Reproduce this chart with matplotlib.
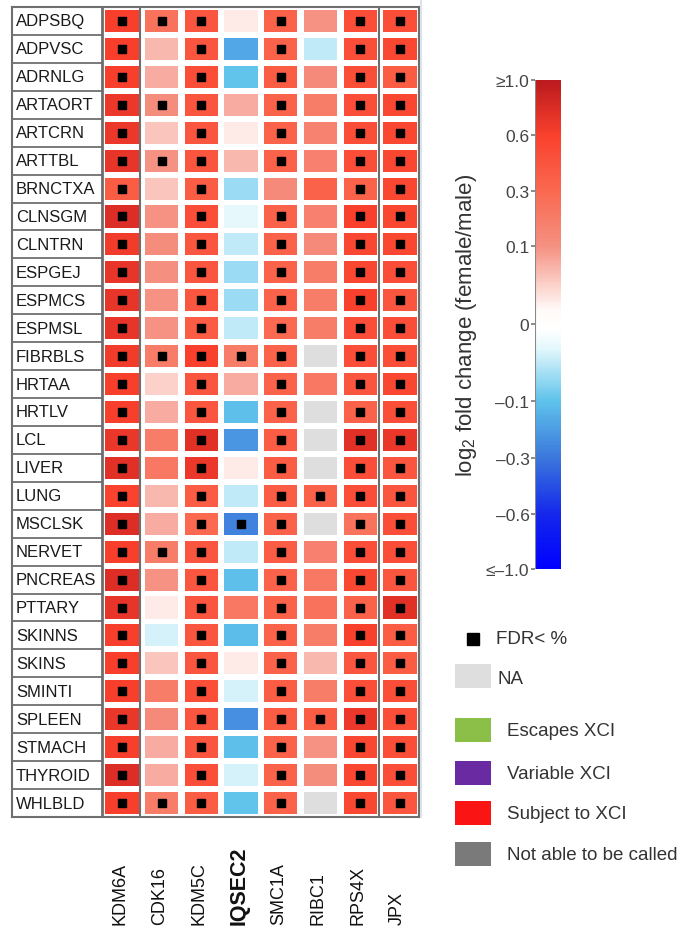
"""
Heatmap of female/male log2 fold change for X-linked genes across tissues
"""

import numpy as np
import matplotlib
matplotlib.use("Agg")
import matplotlib.pyplot as plt
from matplotlib.colors import LinearSegmentedColormap, FuncNorm
from matplotlib.patches import Rectangle
from matplotlib.lines import Line2D
import matplotlib.cm as cm

plt.rcParams["font.family"] = ["Liberation Sans", "DejaVu Sans"]
plt.rcParams["mathtext.fontset"] = "custom"
plt.rcParams["mathtext.rm"] = "Liberation Sans"

NA = np.nan

tissues = ["ADPSBQ", "ADPVSC", "ADRNLG", "ARTAORT", "ARTCRN", "ARTTBL", "BRNCTXA",
           "CLNSGM", "CLNTRN", "ESPGEJ", "ESPMCS", "ESPMSL", "FIBRBLS", "HRTAA",
           "HRTLV", "LCL", "LIVER", "LUNG", "MSCLSK", "NERVET", "PNCREAS", "PTTARY",
           "SKINNS", "SKINS", "SMINTI", "SPLEEN", "STMACH", "THYROID", "WHLBLD"]

genes = ["KDM6A", "CDK16", "KDM5C", "IQSEC2", "SMC1A", "RIBC1", "RPS4X", "JPX"]

# log2 fold change (female/male), one row per tissue, columns follow genes
fold_change = np.array([
    [0.62, 0.25, 0.45, 0.03, 0.35, 0.10, 0.50, 0.50],
    [0.62, 0.07, 0.45, -0.17, 0.35, -0.05, 0.50, 0.55],
    [0.62, 0.08, 0.50, -0.10, 0.40, 0.13, 0.50, 0.40],
    [0.68, 0.12, 0.45, 0.08, 0.35, 0.20, 0.50, 0.55],
    [0.68, 0.06, 0.45, 0.03, 0.35, 0.17, 0.50, 0.55],
    [0.72, 0.10, 0.45, 0.07, 0.35, 0.18, 0.50, 0.55],
    [0.40, 0.06, 0.40, -0.07, 0.13, 0.35, 0.35, 0.55],
    [0.78, 0.10, 0.50, -0.03, 0.35, 0.18, 0.60, 0.55],
    [0.65, 0.12, 0.45, -0.05, 0.35, 0.13, 0.55, 0.55],
    [0.72, 0.11, 0.45, -0.07, 0.35, 0.20, 0.55, 0.50],
    [0.72, 0.10, 0.45, -0.07, 0.35, 0.20, 0.60, 0.45],
    [0.72, 0.10, 0.40, -0.05, 0.30, 0.20, 0.50, 0.50],
    [0.65, 0.20, 0.60, 0.20, 0.35, NA, 0.50, 0.50],
    [0.62, 0.05, 0.45, 0.08, 0.35, 0.22, 0.45, 0.55],
    [0.62, 0.08, 0.45, -0.11, 0.35, NA, 0.35, 0.50],
    [0.70, 0.20, 0.75, -0.22, 0.40, NA, 0.75, 0.70],
    [0.75, 0.22, 0.68, 0.03, 0.40, NA, 0.50, 0.45],
    [0.58, 0.07, 0.40, -0.05, 0.40, 0.35, 0.50, 0.45],
    [0.78, 0.08, 0.30, -0.27, 0.35, NA, 0.25, 0.50],
    [0.62, 0.20, 0.45, -0.05, 0.40, 0.18, 0.50, 0.50],
    [0.78, 0.10, 0.45, -0.11, 0.35, 0.22, 0.55, 0.45],
    [0.72, 0.03, 0.45, 0.22, 0.35, 0.25, 0.35, 0.75],
    [0.62, -0.04, 0.45, -0.12, 0.35, 0.20, 0.60, 0.40],
    [0.62, 0.06, 0.45, 0.03, 0.35, 0.07, 0.45, 0.40],
    [0.62, 0.20, 0.50, -0.04, 0.40, 0.20, 0.50, 0.50],
    [0.70, 0.13, 0.45, -0.24, 0.40, 0.40, 0.68, 0.50],
    [0.62, 0.08, 0.45, -0.11, 0.35, 0.10, 0.55, 0.50],
    [0.78, 0.08, 0.50, -0.04, 0.35, 0.12, 0.55, 0.50],
    [0.62, 0.20, 0.40, -0.10, 0.35, NA, 0.55, 0.45],
])

# FDR significant cells, one string per tissue, "1" = dot
fdr_sig = ["11101011", "10101011", "10101011", "11101011", "10101011", "11101011",
           "10100011", "10101011", "10101011", "10101011", "10101011", "10101011",
           "11111011", "10101011", "10101011", "10101011", "10101011", "10101111",
           "10111011", "11101011", "10101011", "10101011", "10101011", "10101011",
           "10101011", "10101111", "10101011", "10101011", "11101011"]

# colour bar ticks and where they sit along the bar (0 = bottom, 1 = top)
cbar_ticks = [-1.0, -0.6, -0.3, -0.1, 0.0, 0.1, 0.3, 0.6, 1.0]
cbar_labels = ["\u2264\u20131.0", "\u20130.6", "\u20130.3", "\u20130.1", "0", "0.1", "0.3", "0.6", "\u22651.0"]
cbar_pos = [0.0, 0.112, 0.227, 0.344, 0.501, 0.660, 0.773, 0.888, 1.0]

legend_labels = ["Escapes XCI", "Variable XCI", "Subject to XCI", "Not able to be called"]
legend_colors = ["#8cbf48", "#6a2aa2", "#fb1414", "#7a7a7a"]

NA_COLOR = "#dedede"

cmap = LinearSegmentedColormap.from_list("fc", [
    (0.0, "#0000ff"),
    (0.112, "#1428eb"),
    (0.227, "#3b78dc"),
    (0.344, "#5fc3eb"),
    (0.45, "#e2f7fc"),
    (0.49, "#ffffff"),
    (0.53, "#fffaf8"),
    (0.66, "#f59182"),
    (0.773, "#fa6950"),
    (0.888, "#fa412d"),
    (1.0, "#bb1a1e"),
])


def forward(v):
    return np.interp(v, cbar_ticks, cbar_pos)


def inverse(p):
    return np.interp(p, cbar_pos, cbar_ticks)


norm = FuncNorm((forward, inverse), vmin=-1.0, vmax=1.0)

W, H = 691, 929
fig = plt.figure(figsize=(W / 100, H / 100), dpi=100)


def box(left, top, right, bottom):
    # pixel box -> figure fraction rect
    return [left / W, 1 - bottom / H, (right - left) / W, (bottom - top) / H]


# ---- heatmap ----
col_px = 39.7
x0_px = 122
left_px, right_px = 12, 419
ax = fig.add_axes(box(left_px, 8, right_px, 818))
ax.set_xlim((left_px - x0_px) / col_px, (right_px - x0_px) / col_px)
ax.set_ylim(len(tissues) - 0.5, -0.5)

cell_w, cell_h = 0.84, 0.79
for i, tissue in enumerate(tissues):
    for j, gene in enumerate(genes):
        v = fold_change[i, j]
        color = NA_COLOR if np.isnan(v) else cmap(norm(v))
        ax.add_patch(Rectangle((j - cell_w / 2, i - cell_h / 2), cell_w, cell_h,
                               facecolor=color, edgecolor="none"))
        if fdr_sig[i][j] == "1":
            ax.plot(j, i, marker="s", color="black", markersize=5.4)

label_left = ax.get_xlim()[0]
for i, tissue in enumerate(tissues):
    ax.text(label_left + 0.1, i, tissue, ha="left", va="center", fontsize=12, color="#1a1a1a")
for i in range(len(tissues) - 1):
    ax.plot([label_left, -0.5], [i + 0.5, i + 0.5], color="#6e6e6e", lw=1.3)
ax.axvline(-0.5, color="#6e6e6e", lw=2)
ax.axvline(0.45, color="#6e6e6e", lw=1.5)
ax.axvline(6.48, color="#6e6e6e", lw=1.5)

for j, gene in enumerate(genes):
    bold = gene == "IQSEC2"
    ax.text(j - 0.06, -0.132, gene, transform=ax.get_xaxis_transform(),
            rotation=90, rotation_mode="anchor", ha="left", va="center",
            fontsize=15.5 if bold else 13, fontweight="bold" if bold else "normal",
            color="#111111")

ax.set_xticks([])
ax.set_yticks([])
for s in ax.spines.values():
    s.set_color("#6e6e6e")
    s.set_linewidth(1.5)

# ---- colour bar ----
cax = fig.add_axes(box(535, 81, 561, 570))
cb = fig.colorbar(cm.ScalarMappable(norm=norm, cmap=cmap), cax=cax, ticks=cbar_ticks)
cb.ax.set_yticklabels(cbar_labels)
cb.outline.set_visible(False)
cax.yaxis.set_ticks_position("left")
cax.tick_params(axis="y", length=3, width=1.2, color="#777777", labelsize=12.5,
                labelcolor="#444444", pad=1)
cax.minorticks_off()
cax.axvline(0, color="#888888", lw=1.5)
fig.text(467 / W, 1 - 325 / H, r"log$_2$ fold change (female/male)", rotation=90,
         ha="center", va="center", fontsize=16, color="#333333")

# ---- legend ----
lax = fig.add_axes(box(420, 600, 691, 929))
lax.set_xlim(420, 691)
lax.set_ylim(929, 600)
lax.axis("off")

lax.plot(473, 640, marker="s", color="black", markersize=8)
lax.text(496, 640, "FDR< %", ha="left", va="center", fontsize=13.5, color="#333333")
lax.add_patch(Rectangle((455, 665), 36, 24, facecolor=NA_COLOR, edgecolor="none"))
lax.text(497, 680, "NA", ha="left", va="center", fontsize=13.5, color="#333333")

legend_top = [719, 762, 802, 843]
for top, label, color in zip(legend_top, legend_labels, legend_colors):
    lax.add_patch(Rectangle((455, top), 36, 24, facecolor=color, edgecolor="none"))
    lax.text(507, top + 13, label, ha="left", va="center", fontsize=13.5, color="#333333")

fig.add_artist(Line2D([421 / W, 421 / W], [1 - 818 / H, 1.0], color="#d5dde6", lw=1.2))

fig.savefig("out.png", dpi=100)
plt.close(fig)
